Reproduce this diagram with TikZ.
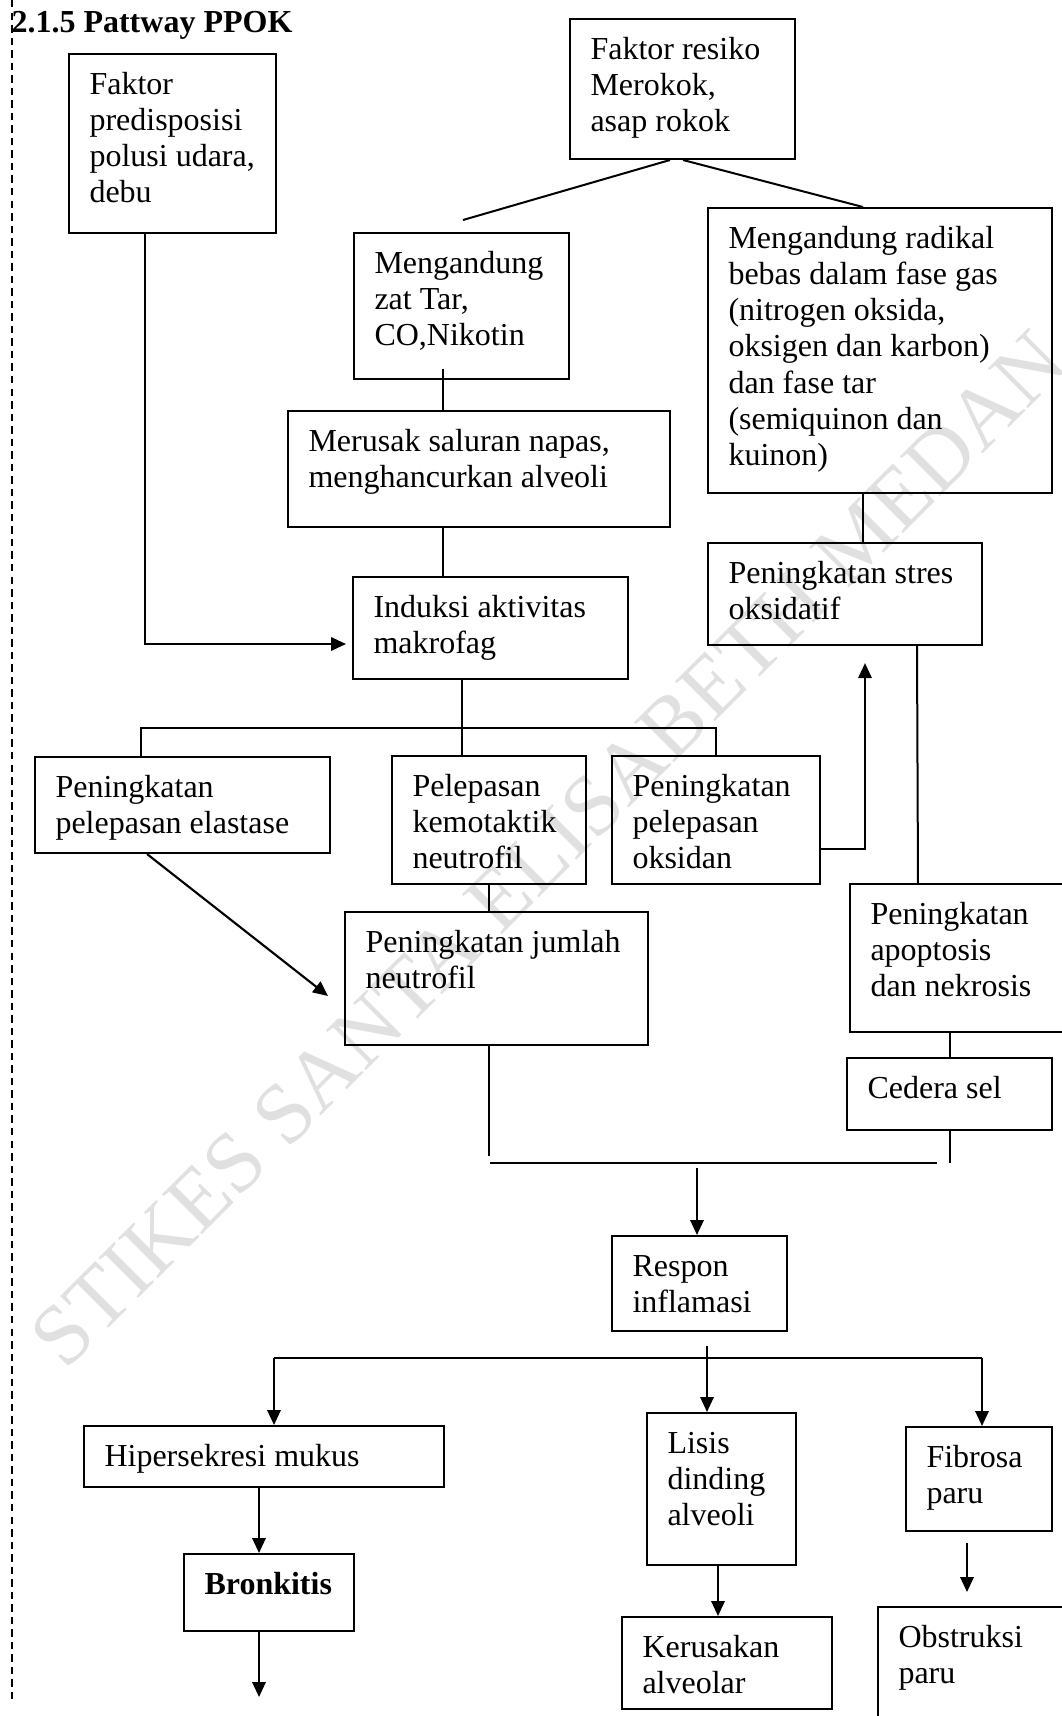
\documentclass[tikz,border=0pt]{standalone}
\usepackage{fontspec}
\setmainfont{Liberation Serif}
\usetikzlibrary{arrows.meta,calc}

% stack several lines (separated by \\) in a box whose baseline is the first line
\newcommand\stacklines[1]{\vtop{\baselineskip=13.6pt\lineskiplimit=-\maxdimen
  \def\\{\egroup\hbox\bgroup}\hbox\bgroup#1\egroup}}

% framed step: name, left, top, right, bottom (px), text
\newcommand\flowbox[6]{%
  \node[box, minimum width={(#4-#2)*0.375pt}, minimum height={(#5-#3)*0.375pt}] (#1) at (#2,#3) {};
  \node[lbl] (#1-text) at ($(#1.north west)+(21,41)$) {\stacklines{#6}};}

\tikzset{
  box/.style={draw, line width=0.75pt, rectangle, inner sep=0pt, anchor=north west},
  lbl/.style={anchor=base west, inner sep=0pt},
  conn/.style={line width=0.75pt},
  arr/.style={line width=0.8pt, -{Triangle[length=5.6pt,width=5pt]}},
  margin/.style={line width=0.55pt, dash pattern=on 2.8pt off 1.9pt},
  wmark/.style={rotate=45, anchor=base west, inner sep=0pt, text=black!12,
    font=\fontsize{32.3pt}{36pt}\selectfont},
}

\begin{document}
\begin{tikzpicture}[x=0.375pt, y=-0.375pt, font=\fontsize{12pt}{13.6pt}\selectfont]
\useasboundingbox (0,0) rectangle (1062,1716);

% watermark
\node[wmark] (watermark) at (65,1372) {STIKES SANTA ELISABETH MEDAN};

% left margin rule
\draw[margin] (12,0) -- (12,1700);

% heading
\node[lbl, font=\fontsize{12pt}{13.6pt}\selectfont\bfseries] (title) at (11,32) {2.1.5 Pattway PPOK};

% steps
\flowbox{pred}{68}{53}{275}{232}{Faktor\\predisposisi\\polusi udara,\\debu}
\flowbox{resiko}{569}{18}{794}{158}{Faktor resiko\\Merokok,\\asap rokok}
\flowbox{tar}{353}{232}{568}{378}{Mengandung\\zat Tar,\\CO,Nikotin}
\flowbox{radikal}{707}{207}{1051}{492}{Mengandung radikal\\bebas dalam fase gas\\(nitrogen oksida,\\oksigen dan karbon)\\dan fase tar\\(semiquinon dan\\kuinon)}
\flowbox{merusak}{287}{410}{669}{526}{Merusak saluran napas,\\menghancurkan alveoli}
\flowbox{induksi}{352}{576}{627}{678}{Induksi aktivitas\\makrofag}
\flowbox{stres}{707}{542}{981}{644}{Peningkatan stres\\oksidatif}
\flowbox{elastase}{34}{756}{329}{852}{Peningkatan\\pelepasan elastase}
\flowbox{kemo}{391}{755}{585}{883}{Pelepasan\\kemotaktik\\neutrofil}
\flowbox{oksidan}{611}{755}{819}{883}{Peningkatan\\pelepasan\\oksidan}
\flowbox{jumlah}{344}{911}{647}{1044}{Peningkatan jumlah\\neutrofil}
\flowbox{apop}{849}{883}{1075}{1031}{Peningkatan\\apoptosis\\dan nekrosis}
\flowbox{cedera}{846}{1057}{1051}{1129}{Cedera sel}
\flowbox{respon}{611}{1235}{786}{1330}{Respon\\inflamasi}
\flowbox{hiper}{83}{1425}{443}{1486}{Hipersekresi mukus}
\flowbox{bronk}{183}{1553}{353}{1630}{\textbf{Bronkitis}}
\flowbox{lisis}{646}{1412}{795}{1564}{Lisis\\dinding\\alveoli}
\flowbox{keru}{621}{1616}{831}{1708}{Kerusakan\\alveolar}
\flowbox{fibrosa}{905}{1426}{1051}{1530}{Fibrosa\\paru}
\flowbox{obstr}{877}{1606}{1075}{1730}{Obstruksi\\paru}

% free ends and bends
\coordinate (tarend) at (463,220);
\coordinate (splitL) at (141,728);
\coordinate (eltip) at (328,996);
\coordinate (jumend) at (489,1156);
\coordinate (cedend) at (950,1163);
\coordinate (joinL) at (490,1163);
\coordinate (joinR) at (937,1163);
\coordinate (joinout) at (697,1168);
\coordinate (branchL) at (274,1358);
\coordinate (branchR) at (982,1358);
\coordinate (bronkend) at (259,1697);

% smoking branch
\draw[conn] (resiko.south -| 670,0) -- (tarend);
\draw[conn] (resiko.south -| 683,0) -- (radikal.north -| 863,0);
\draw[conn] ($(tar.south -| 443,0)+(0,-11)$) -- (merusak.north -| 443,0);
\draw[conn] (merusak.south -| 443,0) -- (induksi.north -| 443,0);
\draw[conn] (radikal.south -| 863,0) -- (stres.north -| 863,0);

% predisposition into macrophage activity
\draw[arr, shorten >=2.25pt] (145,0 |- pred.south) |- (induksi.west |- 0,644);

% macrophage split
\draw[conn] (induksi.south -| 462,0) -- (kemo.north -| 462,0);
\draw[conn] (elastase.north -| splitL) -- (splitL) -| (oksidan.north -| 716,0);

% oxidants feed oxidative stress
\draw[arr, shorten >=6.4pt] (oksidan.east |- 0,849) -| (stres.south -| 865,0);
\draw[conn] (stres.south -| 917,0) -- (apop.north -| 918,0);
\draw[conn] (apop.south -| 950,0) -- (cedera.north -| 950,0);
\draw[conn] (cedera.south -| 950,0) -- (cedend);

% neutrophils
\draw[arr] (elastase.south -| 147,0) -- (eltip);
\draw[conn] (kemo.south -| 489,0) -- (jumlah.north -| 489,0);
\draw[conn] (jumlah.south -| 489,0) -- (jumend);

% merge into inflammation
\draw[conn] (joinL) -- (joinR);
\draw[arr] (joinout) -- (respon.north -| joinout);

% inflammation outcomes
\draw[arr] ($(respon.south -| 707,0)+(0,14)$) -- (lisis.north -| 707,0);
\draw[conn] (branchL) -- (branchR);
\draw[arr] (branchL) -- (hiper.north -| branchL);
\draw[arr] (branchR) -- (fibrosa.north -| branchR);
\draw[arr] (hiper.south -| 259,0) -- (bronk.north -| 259,0);
\draw[arr] (bronk.south -| 259,0) -- (bronkend);
\draw[arr] (lisis.south -| 718,0) -- (keru.north -| 718,0);
\draw[arr] ($(fibrosa.south -| 967,0)+(0,11)$) -- ($(obstr.north -| 967,0)+(0,-14)$);
\end{tikzpicture}
\end{document}
